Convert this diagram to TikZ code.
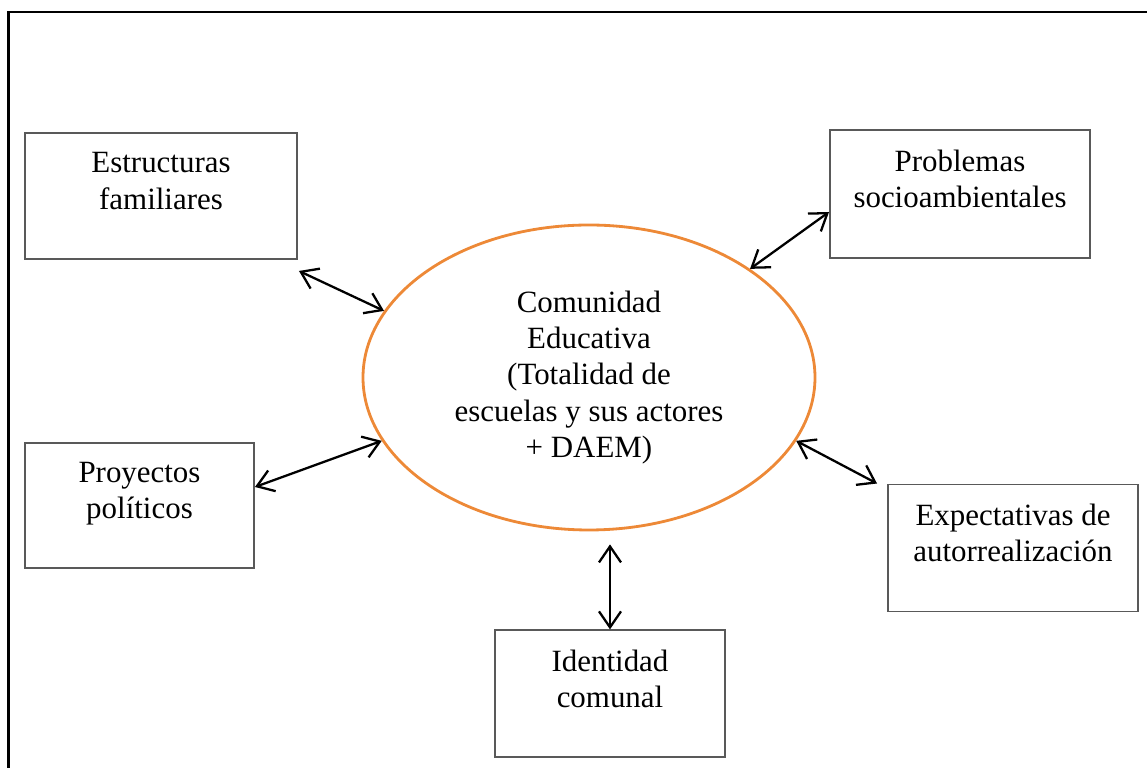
\documentclass[tikz,border=0pt]{standalone}
\usepackage{fontspec}
\setmainfont{Liberation Serif}
\usetikzlibrary{shapes.geometric, arrows.meta, positioning}
\definecolor{naranja}{RGB}{237,137,55}

\begin{document}
\begin{tikzpicture}[<->, >={Straight Barb[length=3.2mm,width=4.4mm]}, line width=1.3pt,
	caja/.style={rectangle, draw=black!65, line width=1.1pt, align=center, font=\fontsize{17.6}{20.7}\selectfont},
	centro/.style={ellipse, draw=naranja, line width=1.6pt, minimum width=9.04cm, minimum height=6.1cm, align=center, font=\fontsize{17.6}{20.7}\selectfont}]
	\useasboundingbox (0,0) rectangle (22.94,15.36);
	\draw[-, line width=1.4pt] (0.17,-1) |- (24,15.12);

	\node[centro] (comu) at (11.78,7.81)                                   {Comunidad\\Educativa\\(Totalidad de\\escuelas y sus actores\\+ DAEM)};
	\node[caja, minimum width=5.44cm, minimum height=2.52cm] (fam) at (3.22,11.44)   {Estructuras\\familiares\\[-0.13cm]};
	\node[caja, minimum width=5.2cm, minimum height=2.56cm] (prob) at (19.2,11.48)   {Problemas\\socioambientales\\[-0.13cm]};
	\node[caja, minimum width=4.58cm, minimum height=2.5cm] (proy) at (2.79,5.25)    {Proyectos\\políticos\\[-0.13cm]};
	\node[caja, minimum width=5.0cm, minimum height=2.54cm] (expe) at (20.26,4.4)    {Expectativas de\\autorrealización\\[-0.13cm]};
	\node[caja, minimum width=4.6cm, minimum height=2.54cm] (iden) [below=1.96cm of comu, xshift=0.42cm] {Identidad\\comunal\\[-0.13cm]};

	\draw ([shift={(0.02,-0.22)}]fam.south east) -- (comu.162);
	\draw (comu.34) -- ([yshift=-0.36cm]prob.west);
	\draw ([yshift=0.37cm]proy.east) -- (comu.197);
	\draw (comu.343) -- ([xshift=-0.2cm]expe.north west);
	\draw[shorten >=0.26cm] (iden.north) -- (iden.north |- comu.south);
\end{tikzpicture}
\end{document}
